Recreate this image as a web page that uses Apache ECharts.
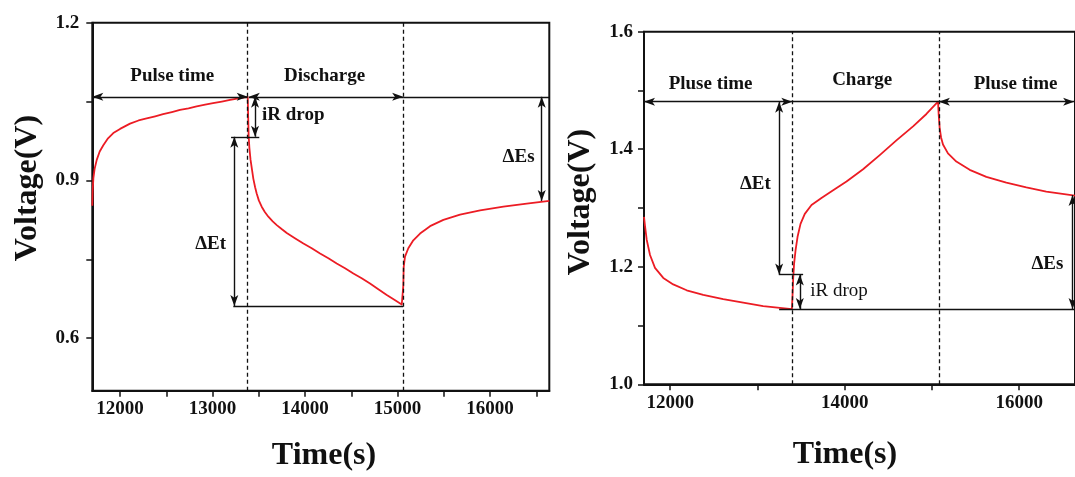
<!DOCTYPE html>
<html>
<head>
<meta charset="utf-8">
<script src="https://cdn.jsdelivr.net/npm/echarts@6/dist/echarts.min.js"></script>
<style>
  html, body { margin: 0; padding: 0; background: #ffffff; }
  #chart { width: 1075px; height: 477px; }
</style>
</head>
<body>
<div id="chart"></div>
<script>
// ---------- time axis span (s) ----------
const timeMin = 11700;
const timeMax = 16640;

// ---------- left panel: pulse / discharge / rest ----------
const leftTime = [
  11700, 11704, 11712, 11725, 11748, 11780, 11819, 11870, 11927, 12000,
  12108, 12200, 12288, 12380, 12465, 12560, 12648, 12740, 12828, 12920,
  13005, 13100, 13189, 13280, 13380,
  13385, 13390, 13398, 13410, 13425, 13441, 13460, 13477, 13500, 13531,
  13565, 13603, 13650, 13694, 13750, 13802, 13890, 13982, 14072, 14162,
  14252, 14342, 14432, 14522, 14612, 14702, 14792, 14883, 14965, 15045, 15060,
  15062, 15066, 15080, 15116, 15170, 15243, 15351, 15495, 15675, 15892,
  16144, 16396, 16640
];
const leftVolt = [
  0.852, 0.880, 0.905, 0.922, 0.939, 0.955, 0.967, 0.980, 0.990, 0.998,
  1.008, 1.014, 1.018, 1.022, 1.026, 1.030, 1.034, 1.037, 1.041, 1.044,
  1.047, 1.050, 1.053, 1.056, 1.059,
  1.020, 0.985, 0.962, 0.940, 0.922, 0.903, 0.887, 0.875, 0.862, 0.850,
  0.840, 0.831, 0.822, 0.815, 0.807, 0.800, 0.790, 0.780, 0.771, 0.761,
  0.752, 0.742, 0.733, 0.723, 0.714, 0.704, 0.693, 0.682, 0.673, 0.664, 0.661,
  0.700, 0.735, 0.755, 0.771, 0.786, 0.799, 0.813, 0.825, 0.835, 0.843,
  0.850, 0.856, 0.861
];
const leftSwitches = [13380, 15060];
const leftXLabels = [12000, 13000, 14000, 15000, 16000];
const leftXTicks = [12000, 12500, 13000, 13500, 14000, 14500, 15000, 15500, 16000, 16500];
const leftYLabels = [0.6, 0.9, 1.2];
const leftYTicks = [0.6, 0.75, 0.9, 1.05, 1.2];
// guide segments: [t1, v1, t2, v2, arrow at start, arrow at end]
const leftGuides = [
  [11700, 1.059, 13380, 1.059, 1, 1],
  [13392, 1.059, 15060, 1.059, 1, 1],
  [15060, 1.059, 16640, 1.059, 0, 0],
  [13459, 1.059, 13459, 0.983, 1, 1],
  [13200, 0.983, 13505, 0.983, 0, 0],
  [13235, 0.983, 13235, 0.661, 1, 1],
  [13224, 0.661, 15060, 0.661, 0, 0],
  [16558, 1.059, 16558, 0.861, 1, 1]
];
// notes: [text, t, v, bold]
const leftNotes = [
  ['Pulse time', 12570, 1.097, true],
  ['Discharge', 14216, 1.097, true],
  ['iR drop', 13878, 1.024, true],
  ['\u0394Es', 16313, 0.943, true],
  ['\u0394Et', 12984, 0.778, true]
];

// ---------- right panel: rest / charge / rest ----------
const rightTime = [
  11700, 11711, 11731, 11769, 11826, 11921, 12035, 12189, 12379, 12608,
  12837, 13066, 13257, 13395,
  13402, 13410, 13420, 13437, 13460, 13494, 13543, 13620, 13734, 13868,
  14021, 14211, 14402, 14593, 14784, 14937, 15070,
  15078, 15089, 15105, 15127, 15184, 15280, 15433, 15624, 15853, 16082,
  16311, 16640
];
const rightVolt = [
  1.285, 1.270, 1.246, 1.220, 1.198, 1.181, 1.170, 1.160, 1.152, 1.145,
  1.139, 1.133, 1.130, 1.128,
  1.150, 1.180, 1.205, 1.228, 1.251, 1.273, 1.290, 1.305, 1.317, 1.330,
  1.345, 1.366, 1.390, 1.415, 1.439, 1.460, 1.481,
  1.458, 1.436, 1.420, 1.408, 1.393, 1.379, 1.365, 1.353, 1.343, 1.335,
  1.328, 1.321
];
const rightSwitches = [13400, 15080];
const rightXLabels = [12000, 14000, 16000];
const rightXTicks = [12000, 13000, 14000, 15000, 16000];
const rightYLabels = [1.0, 1.2, 1.4, 1.6];
const rightYTicks = [1.0, 1.1, 1.2, 1.3, 1.4, 1.5, 1.6];
const rightGuides = [
  [11700, 1.481, 13400, 1.481, 1, 1],
  [13400, 1.481, 15080, 1.481, 0, 0],
  [15080, 1.481, 16630, 1.481, 1, 1],
  [13249, 1.481, 13249, 1.187, 1, 1],
  [13245, 1.187, 13524, 1.187, 0, 0],
  [13486, 1.187, 13486, 1.128, 1, 1],
  [13249, 1.128, 16640, 1.128, 0, 0],
  [16612, 1.128, 16612, 1.322, 1, 1]
];
const rightNotes = [
  ['Pluse time', 12469, 1.5105, true],
  ['Charge', 14207, 1.516, true],
  ['Pluse time', 15965, 1.510, true],
  ['\u0394Et', 12982, 1.340, true],
  ['\u0394Es', 16329, 1.204, true],
  ['iR drop', 13941, 1.158, false]
];

// ---------- styling helpers ----------
const SERIF = '"Liberation Serif", "Times New Roman", serif';
const INK = '#111111';
const CURVE = '#ec1c24';

function zip(xs, ys) { return xs.map((x, i) => [x, ys[i]]); }

function xAxisFor(gridIndex, labels, ticks) {
  return {
    gridIndex, type: 'value', min: timeMin, max: timeMax,
    axisLine: { show: true, onZero: false, lineStyle: { color: INK, width: 2 } },
    axisTick: { show: true, customValues: ticks, length: 6, lineStyle: { color: INK, width: 1.5 } },
    axisLabel: {
      customValues: labels, margin: 9, color: INK,
      fontFamily: SERIF, fontWeight: 'bold', fontSize: 19,
      formatter: v => String(Math.round(v))
    },
    splitLine: { show: false }
  };
}

function yAxisFor(gridIndex, min, max, labels, ticks, margin) {
  return {
    gridIndex, type: 'value', min, max,
    axisLine: { show: true, onZero: false, lineStyle: { color: INK, width: 2 } },
    axisTick: { show: true, customValues: ticks, length: 6, lineStyle: { color: INK, width: 1.5 } },
    axisLabel: {
      customValues: labels, margin, color: INK,
      fontFamily: SERIF, fontWeight: 'bold', fontSize: 19,
      formatter: v => Number(v).toFixed(1)
    },
    splitLine: { show: false }
  };
}

function guideLines(guides, switches, vMin, vMax) {
  const items = guides.map(g => [
    { coord: [g[0], g[1]], symbol: g[4] ? 'arrow' : 'none' },
    { coord: [g[2], g[3]], symbol: g[5] ? 'arrow' : 'none' }
  ]);
  switches.forEach(t => {
    items.push([
      { coord: [t, vMin], symbol: 'none', lineStyle: { type: [4, 3], width: 1.3, color: INK } },
      { coord: [t, vMax], symbol: 'none' }
    ]);
  });
  return {
    silent: true,
    animation: false,
    symbolSize: [6, 11],
    lineStyle: { color: INK, width: 1.4, type: 'solid' },
    itemStyle: { color: INK },
    label: { show: false },
    emphasis: { disabled: true },
    data: items
  };
}

function curveSeries(idx, times, volts, guides, switches, vMin, vMax) {
  return {
    type: 'line', xAxisIndex: idx, yAxisIndex: idx,
    data: zip(times, volts),
    showSymbol: false, symbol: 'none',
    smooth: false,
    lineStyle: { color: CURVE, width: 1.8, join: 'round' },
    itemStyle: { color: CURVE },
    silent: true,
    markLine: guideLines(guides, switches, vMin, vMax),
    z: 3
  };
}

function noteSeries(idx, notes) {
  return {
    type: 'scatter', xAxisIndex: idx, yAxisIndex: idx,
    symbol: 'circle', symbolSize: 1,
    itemStyle: { color: 'rgba(0,0,0,0)', opacity: 1 },
    silent: true,
    data: notes.map(n => ({
      name: n[0], value: [n[1], n[2]],
      label: {
        show: true, position: [0, 0], align: 'center', verticalAlign: 'middle',
        formatter: '{b}', opacity: 1, textBorderWidth: 0,
        color: INK, fontFamily: SERIF, fontSize: 19,
        fontWeight: n[3] ? 'bold' : 'normal'
      }
    })),
    z: 5
  };
}

function title(text, x, y, rotated) {
  return {
    type: 'text', x, y, rotation: rotated ? Math.PI / 2 : 0,
    style: {
      text, fill: INK,
      font: 'bold 32px ' + SERIF,
      fontFamily: SERIF, fontWeight: 'bold', fontSize: 32,
      align: 'center', verticalAlign: 'middle',
      textAlign: 'center', textVerticalAlign: 'middle'
    },
    silent: true
  };
}

const chart = echarts.init(document.getElementById('chart'), null, { renderer: 'canvas' });

chart.setOption({
  animation: false,
  backgroundColor: '#ffffff',
  grid: [
    { left: 92.3, top: 22.7, width: 457, height: 368, show: true, borderColor: INK, borderWidth: 2, backgroundColor: 'transparent' },
    { left: 644, top: 31.7, width: 431.5, height: 352.6, show: true, borderColor: INK, borderWidth: 2, backgroundColor: 'transparent' }
  ],
  xAxis: [
    xAxisFor(0, leftXLabels, leftXTicks),
    xAxisFor(1, rightXLabels, rightXTicks)
  ],
  yAxis: [
    yAxisFor(0, 0.5, 1.2, leftYLabels, leftYTicks, 13),
    yAxisFor(1, 1.0, 1.6, rightYLabels, rightYTicks, 11)
  ],
  series: [
    curveSeries(0, leftTime, leftVolt, leftGuides, leftSwitches, 0.5, 1.2),
    curveSeries(1, rightTime, rightVolt, rightGuides, rightSwitches, 1.0, 1.6),
    noteSeries(0, leftNotes),
    noteSeries(1, rightNotes)
  ],
  graphic: [
    title('Voltage(V)', 28, 188, true),
    title('Voltage(V)', 581, 202, true),
    title('Time(s)', 324, 456, false),
    title('Time(s)', 845, 455, false)
  ]
});
</script>
</body>
</html>
